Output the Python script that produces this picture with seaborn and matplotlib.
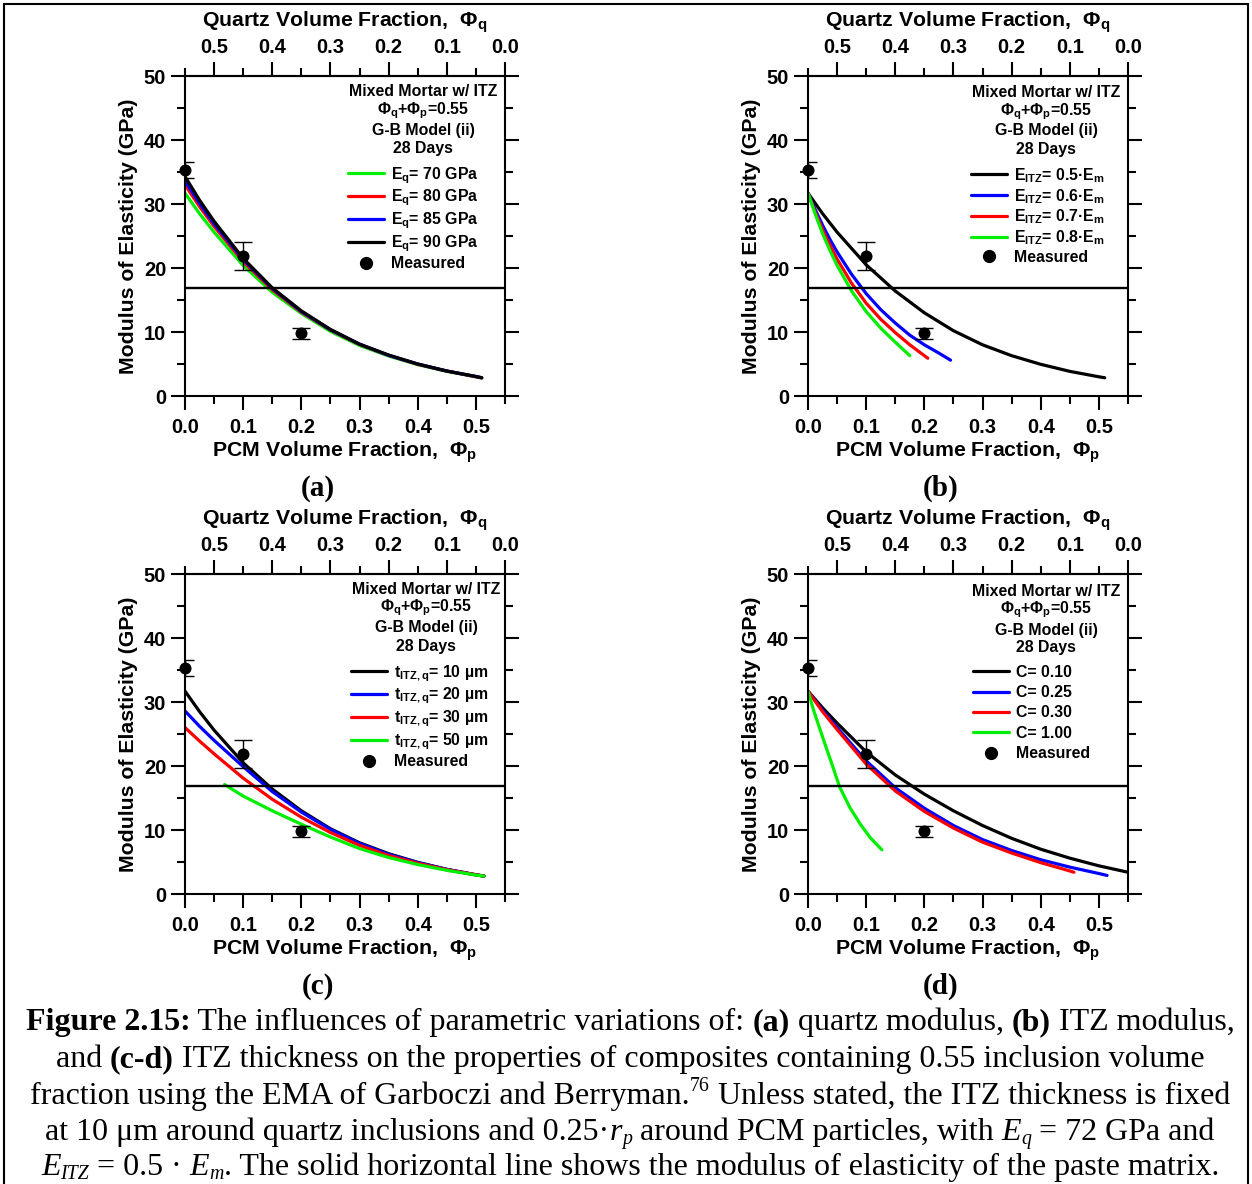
import numpy as np
import pandas as pd
import matplotlib
matplotlib.use("Agg")
import matplotlib.pyplot as plt
import seaborn as sns
from matplotlib.lines import Line2D
from matplotlib.ticker import FixedLocator

# ---------------- data ----------------
EM = 16.8  # paste matrix modulus (horizontal line)
meas_phi = [0.0, 0.1, 0.2]
meas_E = [35.3, 21.9, 9.8]
meas_err = [1.3, 2.2, 0.9]

grid_a = [0, 0.025, 0.05, 0.1, 0.15, 0.2, 0.25, 0.3, 0.35, 0.4, 0.45, 0.5, 0.51]
a_g70 = [31.7, 28.5, 25.6, 20.4, 16.2, 12.9, 10.1, 7.9, 6.25, 4.9, 3.85, 3.0, 2.8]
a_r80 = [33.0, 29.6, 26.5, 21.0, 16.6, 13.1, 10.3, 8.05, 6.35, 4.95, 3.9, 3.0, 2.85]
a_b85 = [33.6, 30.1, 26.9, 21.3, 16.8, 13.2, 10.35, 8.1, 6.35, 5.0, 3.9, 3.05, 2.85]
a_k90 = [34.3, 30.6, 27.3, 21.5, 16.9, 13.3, 10.4, 8.1, 6.4, 5.0, 3.9, 3.05, 2.85]

b_k05 = [31.7, 28.5, 25.6, 20.5, 16.4, 13.0, 10.2, 8.0, 6.3, 4.95, 3.85, 3.0, 2.85]
b_b06_x = [0, 0.0125, 0.025, 0.0375, 0.05, 0.075, 0.1, 0.125, 0.15, 0.175, 0.2, 0.225, 0.245]
b_b06 = [31.7, 29.1, 26.7, 24.5, 22.5, 19.0, 16.0, 13.5, 11.4, 9.5, 8.0, 6.7, 5.6]
b_r07_x = [0, 0.0125, 0.025, 0.0375, 0.05, 0.075, 0.1, 0.125, 0.15, 0.175, 0.2, 0.206]
b_r07 = [31.7, 28.7, 26.0, 23.6, 21.4, 17.6, 14.5, 12.0, 9.9, 8.0, 6.3, 5.9]
b_g08_x = [0, 0.0125, 0.025, 0.0375, 0.05, 0.075, 0.1, 0.125, 0.15, 0.175]
b_g08 = [31.7, 28.4, 25.4, 22.8, 20.4, 16.4, 13.2, 10.6, 8.4, 6.3]

grid_c = [0, 0.025, 0.05, 0.1, 0.15, 0.2, 0.25, 0.3, 0.35, 0.4, 0.45, 0.5, 0.514]
c_k10 = [31.7, 28.5, 25.6, 20.5, 16.4, 13.0, 10.2, 8.0, 6.3, 4.95, 3.85, 3.0, 2.8]
c_b20 = [28.6, 26.2, 24.0, 19.9, 16.0, 12.8, 10.1, 7.9, 6.2, 4.9, 3.85, 3.0, 2.8]
c_r30 = [26.0, 23.9, 21.9, 18.1, 14.8, 12.0, 9.6, 7.6, 6.0, 4.8, 3.8, 3.0, 2.8]
c_g50_x = [0.068, 0.1, 0.15, 0.2, 0.25, 0.3, 0.35, 0.4, 0.45, 0.5, 0.514]
c_g50 = [17.1, 15.3, 13.0, 10.9, 8.9, 7.1, 5.7, 4.6, 3.7, 2.95, 2.8]

d_k010_x = [0, 0.025, 0.05, 0.1, 0.15, 0.2, 0.25, 0.3, 0.35, 0.4, 0.45, 0.5, 0.55]
d_k010 = [31.7, 29.1, 26.7, 22.2, 18.6, 15.6, 13.0, 10.7, 8.7, 7.0, 5.6, 4.4, 3.4]
d_b025_x = [0, 0.025, 0.05, 0.1, 0.15, 0.2, 0.25, 0.3, 0.35, 0.4, 0.45, 0.5, 0.514]
d_b025 = [31.7, 28.7, 26.0, 20.8, 16.6, 13.4, 10.7, 8.5, 6.8, 5.35, 4.2, 3.2, 2.9]
d_r030_x = [0, 0.025, 0.05, 0.1, 0.15, 0.2, 0.25, 0.3, 0.35, 0.4, 0.45, 0.457]
d_r030 = [31.7, 28.5, 25.7, 20.3, 16.1, 12.9, 10.3, 8.1, 6.4, 4.9, 3.6, 3.4]
d_g100_x = [0, 0.01, 0.02, 0.03, 0.04, 0.054, 0.072, 0.09, 0.107, 0.127]
d_g100 = [31.7, 28.6, 25.9, 23.2, 20.6, 16.8, 13.5, 10.9, 8.8, 6.9]

x_ticks = [0.0, 0.1, 0.2, 0.3, 0.4, 0.5]
x_ticklabels = ["0.0", "0.1", "0.2", "0.3", "0.4", "0.5"]
q_ticks = [0.5, 0.4, 0.3, 0.2, 0.1, 0.0]
q_ticklabels = ["0.5", "0.4", "0.3", "0.2", "0.1", "0.0"]
y_ticks = [0, 10, 20, 30, 40, 50]

header_lines = ["Mixed Mortar w/ ITZ",
                r"$\mathit{Φ}_{\mathrm{q}}$+$\mathit{Φ}_{\mathrm{p}}$=0.55",
                "G-B Model (ii)", "28 Days"]

GREEN, RED, BLUE, BLACK = "#00ee00", "#ff0000", "#0000ff", "#000000"

# ---------------- style ----------------
sns.set_style("ticks")
plt.rcParams["font.family"] = ["Liberation Sans", "DejaVu Sans"]
plt.rcParams.update({
    "font.weight": "bold", "axes.labelweight": "bold",
    "mathtext.fontset": "custom",
    "mathtext.rm": "Liberation Sans:bold",
    "mathtext.it": "Liberation Sans:italic:bold",
    "mathtext.bf": "Liberation Sans:bold",
    "axes.edgecolor": "black", "axes.linewidth": 1.5,
    "xtick.color": "black", "ytick.color": "black",
    "text.color": "black", "axes.labelcolor": "black",
})

W, H = 1252, 1184
fig = plt.figure(figsize=(W / 100, H / 100), dpi=100)
fig.patch.set_facecolor("white")

TICK_FS = 14.5
LAB_FS = 15.3
LEG_FS = 11.4


def rect(x0, ytop, w=320, h=320):
    return [x0 / W, 1 - (ytop + h) / H, w / W, h / H]


def style_axis(ax):
    ax.set_xlim(0, 0.55)
    ax.set_ylim(0, 50)
    ax.set_xticks(x_ticks)
    ax.set_xticklabels(x_ticklabels)
    ax.xaxis.set_minor_locator(FixedLocator(np.arange(0.05, 0.56, 0.1)))
    ax.set_yticks(y_ticks)
    ax.yaxis.set_minor_locator(FixedLocator(np.arange(5, 50, 10)))
    ax.tick_params(which="both", direction="out", top=False, right=True,
                   labelsize=TICK_FS, width=1.5)
    ax.tick_params(which="major", length=10)
    ax.tick_params(which="minor", length=5.5)
    ax.tick_params(axis="x", which="both", pad=6)
    ax.tick_params(axis="y", which="both", pad=3.5)
    for s in ax.spines.values():
        s.set_linewidth(1.5)
        s.set_visible(True)
    ax.set_xlabel(r"PCM Volume Fraction,  $\mathit{Φ}_{\mathrm{p}}$", fontsize=LAB_FS, labelpad=1.5)
    ax.set_ylabel("Modulus of Elasticity (GPa)", fontsize=LAB_FS, labelpad=4.0)
    sec = ax.secondary_xaxis("top", functions=(lambda p: 0.55 - p, lambda q: 0.55 - q))
    sec.set_xticks(q_ticks)
    sec.set_xticklabels(q_ticklabels)
    sec.xaxis.set_minor_locator(FixedLocator(np.arange(0.05, 0.56, 0.1)))
    sec.tick_params(which="both", direction="out", labelsize=TICK_FS, width=1.5, pad=4)
    sec.tick_params(which="major", length=10)
    sec.tick_params(which="minor", length=5.5)
    sec.spines["top"].set_linewidth(1.5)
    sec.set_xlabel(r"Quartz Volume Fraction,  $\mathit{Φ}_{\mathrm{q}}$", fontsize=LAB_FS, labelpad=8)


def panel(r, series, hdr_cx, hdr_ys, leg_x, leg_top, leg_spacing, letter, letter_x, letter_y):
    ax = fig.add_axes(r)
    rows = []
    order = []
    pal = {}
    for lab, xs, ys, col in series:
        order.append(lab)
        pal[lab] = col
        for xv, yv in zip(xs, ys):
            rows.append({"phi": xv, "E": yv, "series": lab})
    df = pd.DataFrame(rows)
    sns.lineplot(data=df, x="phi", y="E", hue="series", hue_order=order, palette=pal,
                 estimator=None, sort=False, linewidth=2.3, legend=False, ax=ax)
    ax.axhline(EM, color="black", linewidth=1.7, zorder=3)
    mdf = pd.DataFrame({"phi": meas_phi, "E": meas_E})
    ax.errorbar(meas_phi, meas_E, yerr=meas_err, fmt="none", ecolor="black",
                elinewidth=1.0, capsize=6.5, capthick=1.0, zorder=4)
    sns.scatterplot(data=mdf, x="phi", y="E", color="black", s=75, edgecolor="black",
                    linewidth=0, zorder=5, legend=False, ax=ax, clip_on=False)
    style_axis(ax)
    for txt, yy in zip(header_lines, hdr_ys):
        ax.text(hdr_cx, yy, txt, transform=ax.transAxes, ha="center", va="center",
                fontsize=LEG_FS, fontweight="bold")
    handles = [Line2D([], [], color=col, lw=2.3) for _, _, _, col in series]
    labels = [lab for lab, _, _, _ in series]
    handles.append(Line2D([], [], color="black", marker="o", linestyle="none", markersize=8.5))
    labels.append("Measured")
    ax.legend(handles, labels, loc="upper left", bbox_to_anchor=(leg_x, leg_top),
              frameon=False, fontsize=LEG_FS, handlelength=2.28, handletextpad=0.44,
              labelspacing=leg_spacing, borderaxespad=0, borderpad=0)
    fig.text(letter_x / W, 1 - letter_y / H, letter, ha="center", va="baseline",
             fontsize=21, fontweight="bold", family="Liberation Serif")
    return ax


panel(rect(185, 76),
      [(r"E$_\mathrm{q}$= 70 GPa", grid_a, a_g70, GREEN),
       (r"E$_\mathrm{q}$= 80 GPa", grid_a, a_r80, RED),
       (r"E$_\mathrm{q}$= 85 GPa", grid_a, a_b85, BLUE),
       (r"E$_\mathrm{q}$= 90 GPa", grid_a, a_k90, BLACK)],
      0.744, [0.95, 0.891, 0.831, 0.772], 0.509, 0.722, 0.14, "(a)", 318, 496)

panel(rect(808, 76),
      [(r"E$_\mathrm{ITZ}$= 0.5·E$_\mathrm{m}$", grid_a, b_k05, BLACK),
       (r"E$_\mathrm{ITZ}$= 0.6·E$_\mathrm{m}$", b_b06_x, b_b06, BLUE),
       (r"E$_\mathrm{ITZ}$= 0.7·E$_\mathrm{m}$", b_r07_x, b_r07, RED),
       (r"E$_\mathrm{ITZ}$= 0.8·E$_\mathrm{m}$", b_g08_x, b_g08, GREEN)],
      0.745, [0.948, 0.889, 0.83, 0.771], 0.509, 0.719, 0.14, "(b)", 941, 496)

panel(rect(185, 574),
      [(r"t$_\mathrm{ITZ,q}$= 10 µm", grid_c, c_k10, BLACK),
       (r"t$_\mathrm{ITZ,q}$= 20 µm", grid_c, c_b20, BLUE),
       (r"t$_\mathrm{ITZ,q}$= 30 µm", grid_c, c_r30, RED),
       (r"t$_\mathrm{ITZ,q}$= 50 µm", c_g50_x, c_g50, GREEN)],
      0.753, [0.95, 0.894, 0.834, 0.775], 0.519, 0.722, 0.14, "(c)", 318, 994)

panel(rect(808, 574),
      [("C= 0.10", d_k010_x, d_k010, BLACK),
       ("C= 0.25", d_b025_x, d_b025, BLUE),
       ("C= 0.30", d_r030_x, d_r030, RED),
       ("C= 1.00", d_g100_x, d_g100, GREEN)],
      0.745, [0.944, 0.8875, 0.825, 0.769], 0.516, 0.7165, 0.34, "(d)", 941, 994)

# ---------------- caption ----------------
renderer = fig.canvas.get_renderer()
SERIF = "Liberation Serif"


def measure(s, size, weight, style):
    t = fig.text(0, 0, "|" + s + "|", fontsize=size, family=SERIF, weight=weight, style=style)
    w1 = t.get_window_extent(renderer).width
    t.remove()
    t = fig.text(0, 0, "||", fontsize=size, family=SERIF, weight=weight, style=style)
    w2 = t.get_window_extent(renderer).width
    t.remove()
    return w1 - w2


def rich_line(segs, base_y, size, cx=630):
    items = []
    total = 0
    for s, kind in segs:
        weight = "bold" if kind == "b" else "normal"
        style = "italic" if kind in ("i", "isub") else "normal"
        sz = size * (0.62 if kind in ("sup", "isub") else 1.0)
        dy = 0
        if kind == "sup":
            dy = -size * 1.39 * 0.42
        elif kind == "isub":
            dy = size * 1.39 * 0.12
        w = measure(s, sz, weight, style)
        items.append((s, sz, weight, style, dy, w))
        total += w
    x = cx - total / 2
    for s, sz, weight, style, dy, w in items:
        fig.text(x / W, 1 - (base_y + dy) / H, s, fontsize=sz, family=SERIF,
                 weight=weight, style=style, ha="left", va="baseline")
        x += w
    return total


cap_lines = [
    [("Figure 2.15:", "b"), (" The influences of parametric variations of: ", "n"), ("(a)", "b"),
     (" quartz modulus, ", "n"), ("(b)", "b"), (" ITZ modulus,", "n")],
    [("and ", "n"), ("(c-d)", "b"),
     (" ITZ thickness on the properties of composites containing 0.55 inclusion volume", "n")],
    [("fraction using the EMA of Garboczi and Berryman.", "n"), ("76", "sup"),
     (" Unless stated, the ITZ thickness is fixed", "n")],
    [("at 10 μm around quartz inclusions and 0.25·", "n"), ("r", "i"), ("p", "isub"),
     (" around PCM particles, with ", "n"), ("E", "i"), ("q", "isub"), (" = 72 GPa and", "n")],
    [("E", "i"), ("ITZ", "isub"), (" = 0.5 · ", "n"), ("E", "i"), ("m", "isub"),
     (". The solid horizontal line shows the modulus of elasticity of the paste matrix.", "n")],
]

# fit font size so that first line spans the reference width
ref_w = 1210.0
w20 = sum(measure(s, 20, "bold" if k == "b" else "normal", "normal") for s, k in cap_lines[0])
cap_size = 20 * ref_w / w20
baselines = [1030, 1067, 1104, 1140, 1175]
for segs, by in zip(cap_lines, baselines):
    rich_line(segs, by, cap_size)

# figure border
for (x0, y0, x1, y1) in [(4, 4, 1248, 4), (4, 4, 4, 1184), (1248, 4, 1248, 1184)]:
    fig.add_artist(Line2D([x0 / W, x1 / W], [1 - y0 / H, 1 - y1 / H], color="black",
                          linewidth=1.5, transform=fig.transFigure))

fig.savefig("out.png", dpi=100, facecolor="white")
